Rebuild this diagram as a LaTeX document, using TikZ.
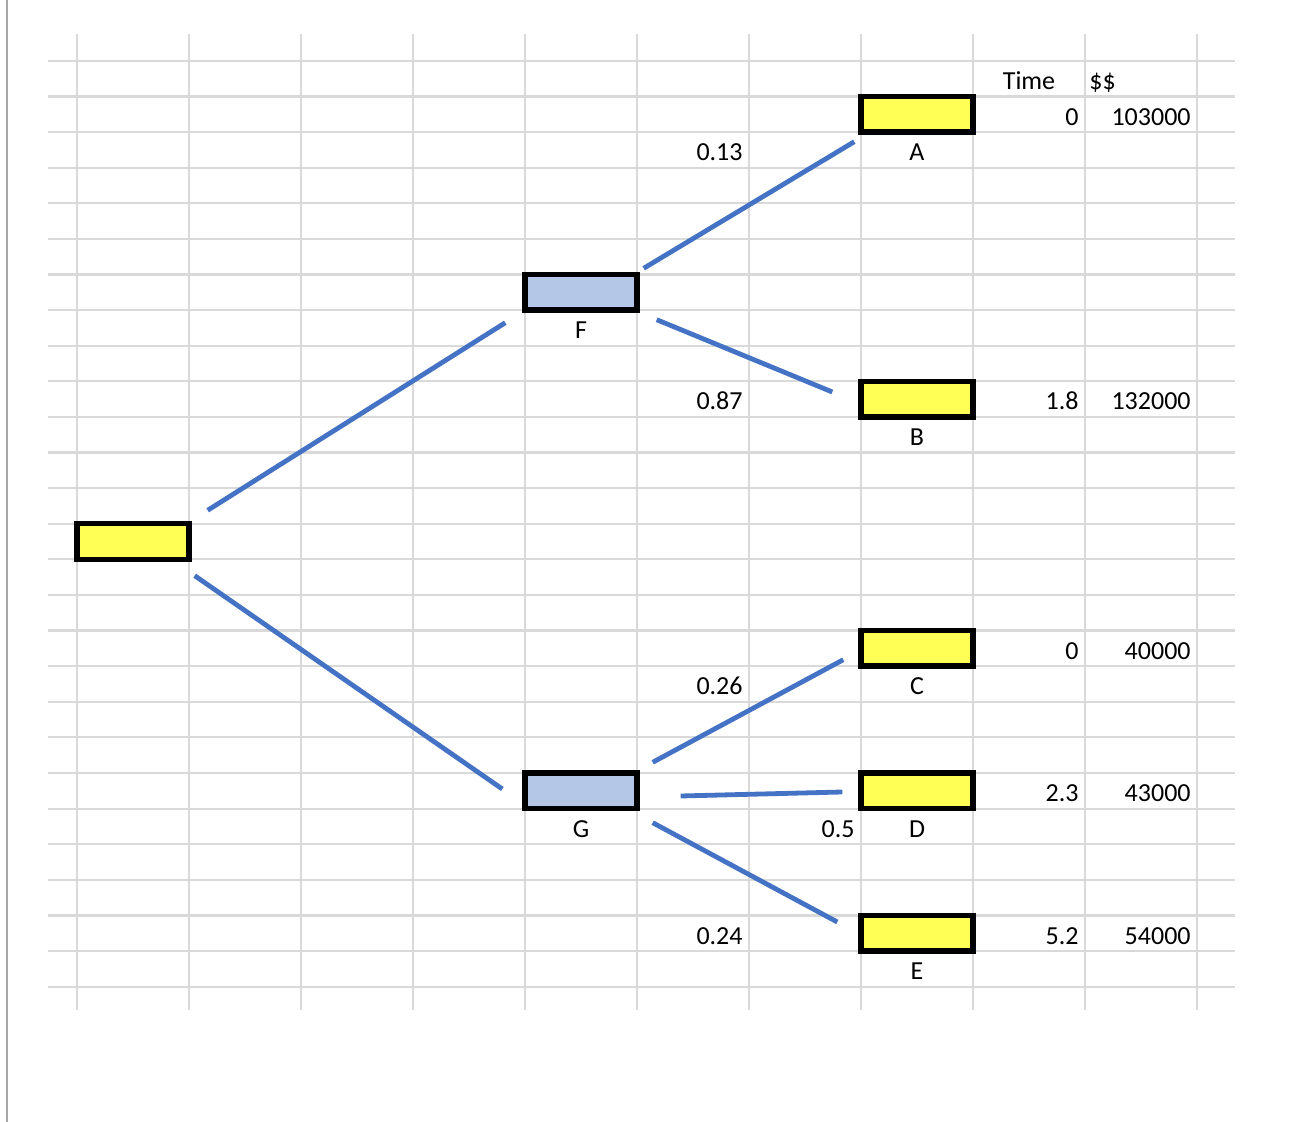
\documentclass[tikz,border=0pt]{standalone}
\usepackage{fontspec}
\setmainfont{Carlito}
\usepackage{tikz}
\usetikzlibrary{calc}

\definecolor{cellgrid}{RGB}{217,217,217}
\definecolor{pagegray}{RGB}{166,166,166}
\definecolor{leafyellow}{RGB}{255,255,85}
\definecolor{chanceblue}{RGB}{180,199,231}
\definecolor{branchblue}{RGB}{68,114,196}

\tikzset{
  gridline/.style={draw=cellgrid, line width=1.1pt},
  box/.style={draw=black, line width=2.7pt, minimum width=56pt, minimum height=17.8pt, inner sep=0pt},
  leaf/.style={box, fill=leafyellow},
  chance/.style={box, fill=chanceblue},
  branch/.style={draw=branchblue, line width=2.4pt},
  txt/.style={inner sep=0pt, font=\fontsize{13}{15.6}\selectfont}
}

\begin{document}
\begin{tikzpicture}[x=0.5pt,y=0.5pt,yscale=-1,xscale=1]
\useasboundingbox (0,0) rectangle (1291,1122);

%Page edge
\draw [draw=pagegray, line width=1pt] (7,0) -- (7,1122);

%Cell grid
\foreach \r in {0,...,26}
  \draw [gridline] (48,{61+35.6*\r}) -- (1235,{61+35.6*\r});
\foreach \c in {0,...,10}
  \draw [gridline] ({77+112*\c},34) -- ({77+112*\c},1010);

%Boxes
\node [leaf] (root) at (133,541.6) {};
\node [chance] (F) at (581,292.4) {};
\node [chance] (G) at (581,790.8) {};
\node [leaf] (A) at (917,114.4) {};
\node [leaf] (B) at (917,399.2) {};
\node [leaf] (C) at (917,648.4) {};
\node [leaf] (D) at (917,790.8) {};
\node [leaf] (E) at (917,933.2) {};

%Branches
\draw [branch] ($(root.north east)+(16,-10.8)$) -- ($(F.south west)+(-17,9.8)$);
\draw [branch] ($(root.south east)+(3,13.6)$) -- ($(G.west)+(-20,-1.8)$);
\draw [branch] ($(F.north east)+(4,-3.6)$) -- ($(A.south west)+(-4,6.8)$);
\draw [branch] ($(F.south east)+(17,6.8)$) -- ($(B.west)+(-26,-7.2)$);
\draw [branch] ($(G.north east)+(13,-8)$) -- ($(C.south west)+(-15,-9.2)$);
\draw [branch] ($(G.east)+(41,5.2)$) -- ($(D.west)+(-16,1.2)$);
\draw [branch] ($(G.south east)+(13,11.4)$) -- ($(E.west)+(-21,-11.2)$);

% Text Node
\node [txt, anchor=base] (lblF) at (581,338.8) {F};
\node [txt, anchor=base] (lblG) at (581,837.2) {G};
\node [txt, anchor=base] (lblA) at (917,160.8) {A};
\node [txt, anchor=base] (lblB) at (917,445.6) {B};
\node [txt, anchor=base] (lblC) at (917,694.8) {C};
\node [txt, anchor=base] (lblD) at (917,837.2) {D};
\node [txt, anchor=base] (lblE) at (917,979.6) {E};
% Text Node
\node [txt, anchor=base east] (pA) at (743,160.8) {0.13};
\node [txt, anchor=base east] (pB) at (743,410) {0.87};
\node [txt, anchor=base east] (pC) at (743,694.8) {0.26};
\node [txt, anchor=base east] (pD) at (855,837.2) {0.5};
\node [txt, anchor=base east] (pE) at (743,944) {0.24};
% Text Node
\node [txt, anchor=base] (hTime) at (1029,89.6) {Time};
\node [txt, anchor=base west] (hCash) at (1089,89.6) {\$\$};
% Text Node
\node [txt, anchor=base east] (tA) at (1079,125.2) {0};
\node [txt, anchor=base east] (tB) at (1079,410) {1.8};
\node [txt, anchor=base east] (tC) at (1079,659.2) {0};
\node [txt, anchor=base east] (tD) at (1079,801.6) {2.3};
\node [txt, anchor=base east] (tE) at (1079,944) {5.2};
% Text Node
\node [txt, anchor=base east] (vA) at (1191,125.2) {103000};
\node [txt, anchor=base east] (vB) at (1191,410) {132000};
\node [txt, anchor=base east] (vC) at (1191,659.2) {40000};
\node [txt, anchor=base east] (vD) at (1191,801.6) {43000};
\node [txt, anchor=base east] (vE) at (1191,944) {54000};
\end{tikzpicture}
\end{document}
